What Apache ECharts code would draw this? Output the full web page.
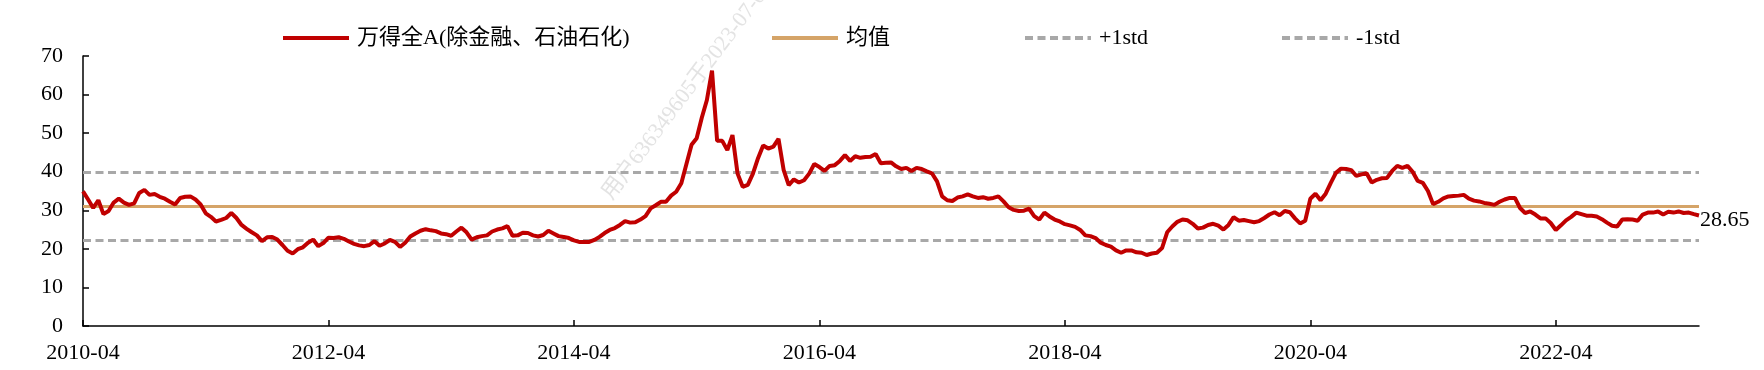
<!DOCTYPE html>
<html>
<head>
<meta charset="utf-8">
<script src="https://cdn.jsdelivr.net/npm/echarts@6/dist/echarts.min.js"></script>
<style>
html,body{margin:0;padding:0;background:#fff;}
#chart{width:1764px;height:370px;}
</style>
</head>
<body>
<div id="chart"></div>
<script>
// Half-monthly observation dates (categories)
const dates = [
'2010-04-01','2010-04-16','2010-05-01','2010-05-16','2010-06-01','2010-06-16','2010-07-01','2010-07-16','2010-08-01','2010-08-16','2010-09-01','2010-09-16','2010-10-01','2010-10-16','2010-11-01','2010-11-16','2010-12-01','2010-12-16',
'2011-01-01','2011-01-16','2011-02-01','2011-02-16','2011-03-01','2011-03-16','2011-04-01','2011-04-16','2011-05-01','2011-05-16','2011-06-01','2011-06-16','2011-07-01','2011-07-16','2011-08-01','2011-08-16','2011-09-01','2011-09-16','2011-10-01','2011-10-16','2011-11-01','2011-11-16','2011-12-01','2011-12-16',
'2012-01-01','2012-01-16','2012-02-01','2012-02-16','2012-03-01','2012-03-16','2012-04-01','2012-04-16','2012-05-01','2012-05-16','2012-06-01','2012-06-16','2012-07-01','2012-07-16','2012-08-01','2012-08-16','2012-09-01','2012-09-16','2012-10-01','2012-10-16','2012-11-01','2012-11-16','2012-12-01','2012-12-16',
'2013-01-01','2013-01-16','2013-02-01','2013-02-16','2013-03-01','2013-03-16','2013-04-01','2013-04-16','2013-05-01','2013-05-16','2013-06-01','2013-06-16','2013-07-01','2013-07-16','2013-08-01','2013-08-16','2013-09-01','2013-09-16','2013-10-01','2013-10-16','2013-11-01','2013-11-16','2013-12-01','2013-12-16',
'2014-01-01','2014-01-16','2014-02-01','2014-02-16','2014-03-01','2014-03-16','2014-04-01','2014-04-16','2014-05-01','2014-05-16','2014-06-01','2014-06-16','2014-07-01','2014-07-16','2014-08-01','2014-08-16','2014-09-01','2014-09-16','2014-10-01','2014-10-16','2014-11-01','2014-11-16','2014-12-01','2014-12-16',
'2015-01-01','2015-01-16','2015-02-01','2015-02-16','2015-03-01','2015-03-16','2015-04-01','2015-04-16','2015-05-01','2015-05-16','2015-06-01','2015-06-16','2015-07-01','2015-07-16','2015-08-01','2015-08-16','2015-09-01','2015-09-16','2015-10-01','2015-10-16','2015-11-01','2015-11-16','2015-12-01','2015-12-16',
'2016-01-01','2016-01-16','2016-02-01','2016-02-16','2016-03-01','2016-03-16','2016-04-01','2016-04-16','2016-05-01','2016-05-16','2016-06-01','2016-06-16','2016-07-01','2016-07-16','2016-08-01','2016-08-16','2016-09-01','2016-09-16','2016-10-01','2016-10-16','2016-11-01','2016-11-16','2016-12-01','2016-12-16',
'2017-01-01','2017-01-16','2017-02-01','2017-02-16','2017-03-01','2017-03-16','2017-04-01','2017-04-16','2017-05-01','2017-05-16','2017-06-01','2017-06-16','2017-07-01','2017-07-16','2017-08-01','2017-08-16','2017-09-01','2017-09-16','2017-10-01','2017-10-16','2017-11-01','2017-11-16','2017-12-01','2017-12-16',
'2018-01-01','2018-01-16','2018-02-01','2018-02-16','2018-03-01','2018-03-16','2018-04-01','2018-04-16','2018-05-01','2018-05-16','2018-06-01','2018-06-16','2018-07-01','2018-07-16','2018-08-01','2018-08-16','2018-09-01','2018-09-16','2018-10-01','2018-10-16','2018-11-01','2018-11-16','2018-12-01','2018-12-16',
'2019-01-01','2019-01-16','2019-02-01','2019-02-16','2019-03-01','2019-03-16','2019-04-01','2019-04-16','2019-05-01','2019-05-16','2019-06-01','2019-06-16','2019-07-01','2019-07-16','2019-08-01','2019-08-16','2019-09-01','2019-09-16','2019-10-01','2019-10-16','2019-11-01','2019-11-16','2019-12-01','2019-12-16',
'2020-01-01','2020-01-16','2020-02-01','2020-02-16','2020-03-01','2020-03-16','2020-04-01','2020-04-16','2020-05-01','2020-05-16','2020-06-01','2020-06-16','2020-07-01','2020-07-16','2020-08-01','2020-08-16','2020-09-01','2020-09-16','2020-10-01','2020-10-16','2020-11-01','2020-11-16','2020-12-01','2020-12-16',
'2021-01-01','2021-01-16','2021-02-01','2021-02-16','2021-03-01','2021-03-16','2021-04-01','2021-04-16','2021-05-01','2021-05-16','2021-06-01','2021-06-16','2021-07-01','2021-07-16','2021-08-01','2021-08-16','2021-09-01','2021-09-16','2021-10-01','2021-10-16','2021-11-01','2021-11-16','2021-12-01','2021-12-16',
'2022-01-01','2022-01-16','2022-02-01','2022-02-16','2022-03-01','2022-03-16','2022-04-01','2022-04-16','2022-05-01','2022-05-16','2022-06-01','2022-06-16','2022-07-01','2022-07-16','2022-08-01','2022-08-16','2022-09-01','2022-09-16','2022-10-01','2022-10-16','2022-11-01','2022-11-16','2022-12-01','2022-12-16',
'2023-01-01','2023-01-16','2023-02-01','2023-02-16','2023-03-01','2023-03-16','2023-04-01','2023-04-16','2023-05-01','2023-05-16','2023-06-01'
];

// PE (TTM) of 万得全A(除金融、石油石化)
const pe = [
34.9,32.8,30.6,32.6,29.0,29.8,32.0,33.0,32.0,31.4,31.8,34.5,35.3,34.0,34.2,33.5,33.0,32.2,
31.5,33.2,33.5,33.6,32.8,31.5,29.2,28.3,27.1,27.5,28.0,29.3,28.0,26.2,25.2,24.3,23.5,22.0,23.0,23.1,22.4,21.0,19.5,18.8,
19.9,20.4,21.6,22.4,20.7,21.5,22.9,22.8,23.0,22.6,21.9,21.3,20.9,20.7,21.0,22.0,20.8,21.4,22.3,21.8,20.5,21.6,23.2,24.0,
24.7,25.1,24.8,24.6,24.0,23.8,23.4,24.5,25.5,24.3,22.4,23.0,23.3,23.5,24.5,25.0,25.3,25.9,23.4,23.5,24.2,24.1,23.5,23.2,
23.6,24.7,24.0,23.3,23.1,22.8,22.2,21.8,21.8,21.8,22.3,23.1,24.1,24.9,25.4,26.2,27.2,26.8,26.9,27.6,28.5,30.5,31.3,32.2,
32.2,33.8,34.8,37.0,42.0,47.0,48.7,54.0,58.6,66.2,48.0,48.0,45.6,49.5,39.5,36.1,36.6,39.5,43.5,46.8,46.0,46.5,48.5,40.5,
36.5,38.0,37.2,37.8,39.5,42.0,41.2,40.2,41.5,41.7,42.8,44.3,42.8,44.0,43.6,43.8,43.9,44.6,42.2,42.3,42.4,41.4,40.7,41.0,
40.2,41.0,40.7,40.1,39.6,37.5,33.6,32.6,32.4,33.3,33.6,34.1,33.6,33.2,33.4,33.0,33.2,33.6,32.3,30.8,30.1,29.8,29.9,30.4,
28.5,27.6,29.4,28.4,27.6,27.1,26.4,26.1,25.7,24.9,23.5,23.3,22.8,21.6,21.0,20.6,19.6,19.0,19.6,19.6,19.1,19.0,18.4,18.8,
19.0,20.2,24.3,25.8,27.0,27.6,27.4,26.5,25.3,25.5,26.2,26.5,26.0,25.0,26.2,28.2,27.3,27.5,27.2,26.9,27.2,28.0,28.9,29.5,
28.7,29.8,29.5,27.9,26.6,27.3,33.0,34.3,32.6,34.3,37.1,39.7,40.8,40.7,40.4,38.9,39.3,39.6,37.2,37.9,38.3,38.4,40.2,41.5,
41.0,41.5,40.0,37.6,37.1,35.0,31.6,32.2,33.1,33.6,33.7,33.8,34.0,33.0,32.5,32.3,31.9,31.7,31.4,32.2,32.8,33.2,33.2,30.6,
29.3,29.7,28.9,27.9,27.9,26.7,24.9,26.1,27.4,28.3,29.4,29.0,28.6,28.6,28.4,27.7,26.8,26.0,25.8,27.6,27.7,27.6,27.3,28.9,
29.4,29.4,29.7,28.9,29.6,29.4,29.7,29.3,29.4,29.0,28.65
];

const meanValue = 31.1;
const plusStdValue = 39.9;
const minusStdValue = 22.3;

const seriesNames = ['万得全A(除金融、石油石化)', '均值', '+1std', '-1std'];
const yMin = 0, yMax = 70, yStep = 10;
const watermark = '用户636349605于2023-07-05';

const FONT = '"Liberation Serif", "Times New Roman", "Noto Sans CJK SC", serif';
const RED = '#C00000';
const TAN = '#D5A468';
const GREY = '#A8A8A8';

const chart = echarts.init(document.getElementById('chart'), null, {renderer: 'canvas'});

const legendBase = {
  orient: 'horizontal',
  top: 27,
  padding: 0,
  itemWidth: 66,
  itemHeight: 20,
  itemGap: 0,
  selectedMode: false,
  itemStyle: {color: 'rgba(0,0,0,0)', borderColor: 'rgba(0,0,0,0)', borderWidth: 0},
  lineStyle: {width: 4},
  textStyle: {fontFamily: FONT, fontSize: 22, color: '#000', padding: [0, 0, 0, 3]}
};
const legendLefts = [281, 770, 1023, 1280];

function hLine(name, value, lineStyle) {
  return {
    name: name,
    type: 'line',
    data: [],
    symbol: 'none',
    lineStyle: lineStyle,
    silent: true,
    markLine: {
      silent: true,
      symbol: ['none', 'none'],
      label: {show: false},
      lineStyle: lineStyle,
      emphasis: {disabled: true},
      data: [{yAxis: value}]
    }
  };
}

const option = {
  animation: false,
  backgroundColor: '#fff',
  grid: {left: 83, right: 65, top: 56, bottom: 44, containLabel: false},
  legend: seriesNames.map((n, i) => Object.assign({}, legendBase, {data: [n], left: legendLefts[i]})),
  graphic: [{
    type: 'text',
    x: 616, y: 204,
    rotation: Math.PI * 53 / 180,
    silent: true,
    z: -10,
    style: {
      text: watermark,
      font: '22px "Liberation Serif", "Noto Sans CJK SC", serif',
      fill: 'rgba(200,200,200,0.5)',
      verticalAlign: 'bottom',
      align: 'left'
    }
  }],
  xAxis: {
    type: 'category',
    data: dates,
    boundaryGap: false,
    axisLine: {show: true, lineStyle: {color: '#000', width: 1.5}},
    axisTick: {show: true, inside: true, length: 6, interval: 47, lineStyle: {color: '#000', width: 1.5}},
    axisLabel: {
      show: true, interval: 47, margin: 16,
      fontFamily: FONT, fontSize: 22, color: '#000',
      formatter: v => v.slice(0, 7)
    },
    splitLine: {show: false}
  },
  yAxis: {
    type: 'value',
    min: yMin, max: yMax, interval: yStep,
    axisLine: {show: true, lineStyle: {color: '#000', width: 1.5}},
    axisTick: {show: true, inside: true, length: 6, lineStyle: {color: '#000', width: 1.5}},
    axisLabel: {margin: 20, fontFamily: FONT, fontSize: 22, color: '#000'},
    splitLine: {show: false}
  },
  series: [
    {
      name: seriesNames[0],
      type: 'line',
      data: pe,
      symbol: 'none',
      showSymbol: false,
      z: 5,
      lineStyle: {color: RED, width: 4},
      itemStyle: {color: RED},
      endLabel: {
        show: true,
        distance: 1,
        offset: [0, 5],
        fontFamily: FONT, fontSize: 22, color: '#000',
        formatter: p => Number(p.value).toFixed(2)
      }
    },
    hLine(seriesNames[1], meanValue, {color: TAN, width: 3, type: 'solid'}),
    hLine(seriesNames[2], plusStdValue, {color: GREY, width: 3, type: [8, 4.5]}),
    hLine(seriesNames[3], minusStdValue, {color: GREY, width: 3, type: [8, 4.5]})
  ]
};
chart.setOption(option);
</script>
</body>
</html>
